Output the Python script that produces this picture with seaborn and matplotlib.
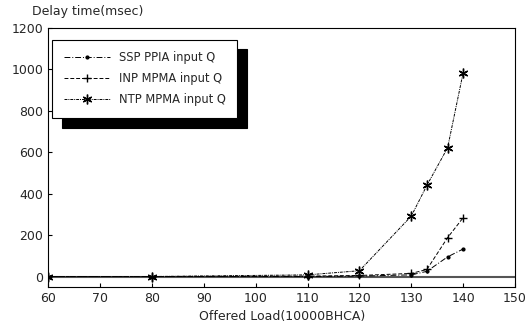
import matplotlib
matplotlib.use("Agg")
import matplotlib.pyplot as plt
import seaborn as sns
import pandas as pd

load = [60, 80, 110, 120, 130, 133, 137, 140]
ssp = [0, 0, 0, 2, 8, 25, 95, 133]
inp = [0, 0, 2, 5, 15, 34, 188, 284]
ntp = [0, 0, 8, 28, 292, 440, 622, 985]
series_names = ["SSP PPIA input Q", "INP MPMA input Q", "NTP MPMA input Q"]

df = pd.concat([
    pd.DataFrame({"load": load, "delay": v, "series": n})
    for v, n in zip([ssp, inp, ntp], series_names)
])

sns.set_style("ticks")
plt.rcParams['font.family'] = ['DejaVu Sans']
fig = plt.figure(figsize=(5.25, 3.26), dpi=100)
ax = fig.add_axes([0.092, 0.12, 0.889, 0.794])

markers = {series_names[0]: '.', series_names[1]: '+', series_names[2]: (6, 2, 0)}
styles = {series_names[0]: (0, (6, 2, 1, 2)), series_names[1]: (0, (4, 2)), series_names[2]: (0, (3, 1, 1, 1))}
sizes = {series_names[0]: 4, series_names[1]: 6, series_names[2]: 7}
ax.axhline(0, color='#555555', lw=1.5, zorder=1)
for n in series_names:
    sub = df[df.series == n]
    sns.lineplot(data=sub, x="load", y="delay", ax=ax, color='black', lw=0.7,
                 marker=markers[n], markersize=sizes[n], mew=1.0, mec='black', mfc='black',
                 label=n, linestyle=styles[n])

ax.set_xlim(60, 150)
ax.set_ylim(-50, 1200)
ax.set_xticks(range(60, 151, 10))
ax.set_yticks(range(0, 1201, 200))
ax.tick_params(direction='in', length=3, labelsize=9, color='black')
for s in ax.spines.values():
    s.set_color('black'); s.set_linewidth(0.8)
ax.set_xlabel("Offered Load(10000BHCA)", fontsize=9)
ax.set_ylabel("")
fig.text(0.06, 0.955, "Delay time(msec)", fontsize=9)

leg = ax.legend(loc='upper left', bbox_to_anchor=(0.008, 0.955), fontsize=8.3, frameon=True,
                fancybox=False, edgecolor='black', framealpha=1, borderpad=1.0,
                labelspacing=0.7, handlelength=4.0, borderaxespad=0,
                shadow={'ox': 7, 'oy': -7, 'color': 'black', 'alpha': 1})
leg.get_frame().set_linewidth(0.8)

fig.savefig("out.png", dpi=100)
